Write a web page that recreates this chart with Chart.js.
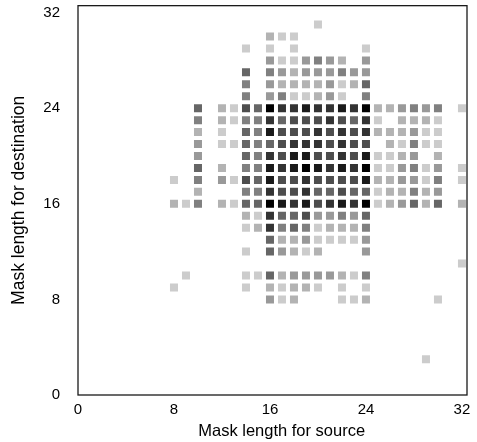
<!DOCTYPE html>
<html>
<head>
<meta charset="utf-8">
<script src="https://cdn.jsdelivr.net/npm/chart.js@4/dist/chart.umd.min.js"></script>
<style>
  html, body { margin: 0; padding: 0; background: #fff; }
  canvas { display: block; }
</style>
</head>
<body>
<canvas id="canvasMaskLengths" width="477" height="442"></canvas>
<script>
// tick labels on both axes
const tickValues = [0, 8, 16, 24, 32];

// source mask length of the first character in every row below
const firstSourceLength = 8;

// destination mask length of each row
const destLengths = [31, 30, 29, 28, 27, 26, 25, 24, 23, 22, 21, 20, 19, 18, 17,
                     16, 15, 14, 13, 12, 11, 10, 9, 8, 7, 6, 5, 4, 3];

// one char per source length 8..32 (spaces are only for reading: 8-15 | 16-24 | 25-32)
// '.' = nothing, 0 = darkest (most) ... 8 = lightest (fewest)
const shadeRows = [
  "........ ....8.... ........",
  "........ 788...... ........",
  "......8. 8.8.....8 ........",
  "........ 6886567.6 ........",
  "......4. 567666566 ........",
  "......5. 677776874 ........",
  "......5. 6588768.5 ........",
  "..4.7834 022122120 776565.8",
  "..5.7855 243332342 8.7778..",
  "..7.8.45 133323232 777688..",
  "..6.8845 432223233 .78588..",
  "..6...45 231133231 8876.7..",
  "..4.7.55 121012120 886586.8",
  "8.5.6834 133233331 776685.8",
  "..7...55 233244344 877576..",
  "785.7844 012132120 876474.7",
  "......78 244366564 ........",
  "......87 254587775 ........",
  "........ 477688886 ........",
  "......8. 46787...6 ........",
  "........ ......... .......8",
  ".8....88 476666785 ........",
  "8.....8. 78778.8.8 ........",
  "........ 687...887 .....8..",
  "........ ......... ........",
  "........ ......... ........",
  "........ ......... ........",
  "........ ......... ........",
  "........ ......... ....8..."
];

const greys = ['#000000', '#1a1a1a', '#333333', '#4d4d4d', '#666666',
               '#808080', '#999999', '#b3b3b3', '#cccccc'];

const points = [];
shadeRows.forEach((row, i) => {
    row.replace(/ /g, '').split('').forEach((ch, j) => {
        if (ch !== '.') {
            points.push({ x: firstSourceLength + j, y: destLengths[i], shade: Number(ch) });
        }
    });
});

const framePlugin = {
    id: 'frame',
    afterDatasetsDraw(chart) {
        const { ctx, chartArea: a } = chart;
        ctx.save();
        ctx.strokeStyle = '#1a1a1a';
        ctx.lineWidth = 1.3;
        ctx.strokeRect(a.left, a.top, a.right - a.left, a.bottom - a.top);
        ctx.restore();
    }
};

Chart.defaults.font.family = '"Liberation Sans", Arial, sans-serif';
Chart.defaults.color = '#000';

function fixedTicks(scale)
{
    scale.ticks = tickValues.map(v => ({ value: v }));
}

const ctx = document.getElementById("canvasMaskLengths").getContext("2d");

const canvasMaskLengths = new Chart(ctx, {
    type: 'scatter',
    data: {
        datasets: [{
            data: points,
            pointStyle: 'rect',
            pointRadius: 5.66,
            pointHoverRadius: 5.66,
            pointBorderWidth: 0,
            pointBackgroundColor: c => greys[c.raw.shade]
        }]
    },
    options: {
        responsive: false,
        animation: false,
        events: [],
        layout: { padding: { top: 4, right: 10, bottom: 0, left: 0 } },
        plugins: {
            legend: { display: false },
            tooltip: { enabled: false }
        },
        scales: {
            x: {
                type: 'linear',
                min: 0,
                max: 32.42,
                afterBuildTicks: fixedTicks,
                afterFit: s => { s.height = 47; s.paddingLeft = 0; s.paddingRight = 0; },
                grid: { display: false, drawTicks: false },
                border: { display: false },
                ticks: { font: { size: 15 }, padding: 6, maxRotation: 0, autoSkip: false },
                title: {
                    display: true,
                    text: '    Mask length for source',
                    font: { size: 16.5 },
                    padding: { top: 0, bottom: 1 }
                }
            },
            y: {
                type: 'linear',
                min: 0,
                max: 32.58,
                afterBuildTicks: fixedTicks,
                afterFit: s => { s.width = 78; s.paddingTop = 0; s.paddingBottom = 0; },
                grid: { display: false, drawTicks: false },
                border: { display: false },
                ticks: { font: { size: 15 }, padding: 18, autoSkip: false },
                title: {
                    display: true,
                    text: 'Mask length for destination',
                    font: { size: 17.5 },
                    padding: { top: 9, bottom: 0 }
                }
            }
        }
    },
    plugins: [framePlugin]
});
</script>
</body>
</html>
